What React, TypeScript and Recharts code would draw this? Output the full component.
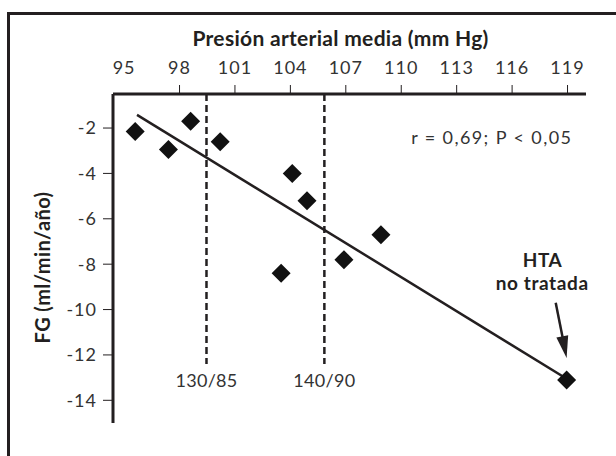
import React from 'react';
import { ScatterChart, Scatter, XAxis, YAxis, ReferenceLine, ReferenceDot } from 'recharts';

// presión arterial media (mm Hg) y pendiente del filtrado glomerular (ml/min/año)
const pamValues = [95.6, 97.4, 98.6, 100.2, 104.1, 104.9, 103.5, 108.9, 106.9, 118.95];
const fgValues = [-2.15, -2.95, -1.7, -2.6, -4.0, -5.2, -8.4, -6.7, -7.8, -13.1];

const xTicks = [95, 98, 101, 104, 107, 110, 113, 116, 119];
const yTicks = [-2, -4, -6, -8, -10, -12, -14];

const regression = [
    { x: 95.7, y: -1.42 },
    { x: 118.95, y: -13.05 },
];

const cutoffs = [
    { x: 99.46, label: '130/85' },
    { x: 105.84, label: '140/90' },
];
const cutoffTop = -0.5;
const cutoffBottom = -12.4;

const arrow = [
    { x: 118.36, y: -9.7 },
    { x: 118.9, y: -11.9 },
];
const arrowTip = { x: 118.95, y: -12.13 };

const points = pamValues.map((x, i) => ({ x, y: fgValues[i] }));

const INK = '#231f20';
const TXT = '#333333';
const FONT = 'Lato, "Open Sans", sans-serif';

const Diamond = (props: any) => {
    const { cx, cy } = props;
    const h = 9.5;
    return <polygon points={`${cx},${cy - h} ${cx + h},${cy} ${cx},${cy + h} ${cx - h},${cy}`} fill="#111" />;
};

const ArrowHead = (props: any) => {
    const { cx, cy } = props;
    return <polygon points="0,0 -6,-22 6,-22" fill={INK} transform={`translate(${cx},${cy}) rotate(-11.3)`} />;
};

const TopTick = (props: any) => {
    const { x, y, payload } = props;
    return (
        <g>
            {payload.value !== 95 && <line x1={x} x2={x} y1={y + 11} y2={y + 20} stroke={INK} strokeWidth={1} />}
            <text x={x} y={y} textAnchor="middle" fontFamily={FONT} fontSize={18} letterSpacing={1} fill={TXT}>
                {payload.value}
            </text>
        </g>
    );
};

const XTitle = (props: any) => {
    const { viewBox } = props;
    return (
        <text
            x={viewBox.x + viewBox.width / 2 - 9}
            y={viewBox.y - 8}
            textAnchor="middle"
            fontFamily={FONT}
            fontWeight="bold"
            fontSize={21}
            letterSpacing={0.3}
            fill={INK}
        >
            Presión arterial media (mm Hg)
        </text>
    );
};

const YTitle = (props: any) => {
    const { viewBox } = props;
    const x = viewBox.x - 3;
    const y = viewBox.y + viewBox.height / 2 + 9;
    return (
        <text
            x={x}
            y={y}
            transform={`rotate(-90, ${x}, ${y})`}
            textAnchor="middle"
            fontFamily={FONT}
            fontWeight="bold"
            fontSize={20}
            letterSpacing={0.4}
            fill={INK}
        >
            FG (ml/min/año)
        </text>
    );
};

export default function App() {
    return (
        <div style={{ position: 'relative', width: 616, height: 456, background: '#fff' }}>
            <style>{'body{margin:0;overflow:hidden}'}</style>
            <div
                style={{
                    position: 'absolute',
                    left: 7,
                    top: 12,
                    width: 609,
                    height: 444,
                    boxSizing: 'border-box',
                    borderTop: `3px solid ${INK}`,
                    borderLeft: `3px solid ${INK}`,
                }}
            />
            <div style={{ position: 'absolute', left: 0, top: 0 }}>
                <ScatterChart width={616} height={456} margin={{ top: 54, right: 30, bottom: 33, left: 53 }}>
                    <XAxis
                        type="number"
                        dataKey="x"
                        orientation="top"
                        height={40}
                        domain={[94.4, 120]}
                        ticks={xTicks}
                        interval={0}
                        allowDataOverflow
                        tick={<TopTick />}
                        tickLine={false}
                        tickSize={9}
                        tickMargin={11}
                        axisLine={{ stroke: INK, strokeWidth: 3 }}
                        label={<XTitle />}
                    />
                    <YAxis
                        type="number"
                        dataKey="y"
                        width={60}
                        domain={[-15, -0.5]}
                        ticks={yTicks}
                        interval={0}
                        allowDataOverflow
                        tick={{ fontFamily: FONT, fontSize: 18, fill: TXT, letterSpacing: 1 }}
                        tickLine={{ stroke: INK, strokeWidth: 1 }}
                        tickSize={10}
                        tickMargin={6}
                        axisLine={{ stroke: INK, strokeWidth: 3 }}
                        label={<YTitle />}
                    />
                    {cutoffs.map((c) => (
                        <ReferenceLine
                            key={c.label}
                            segment={[
                                { x: c.x, y: cutoffTop },
                                { x: c.x, y: cutoffBottom },
                            ]}
                            stroke={INK}
                            strokeWidth={2.5}
                            strokeDasharray="7 4"
                        />
                    ))}
                    {cutoffs.map((c) => (
                        <ReferenceDot
                            key={c.label + '-lbl'}
                            x={c.x}
                            y={cutoffBottom}
                            r={0}
                            stroke="none"
                            fill="none"
                            label={{
                                value: c.label,
                                position: 'bottom',
                                offset: 10,
                                fontFamily: FONT,
                                fontSize: 18,
                                letterSpacing: 0.3,
                                fill: TXT,
                            }}
                        />
                    ))}
                    <ReferenceLine segment={regression} stroke={INK} strokeWidth={2.5} />
                    <ReferenceLine segment={arrow} stroke={INK} strokeWidth={2.5} />
                    <ReferenceDot x={arrowTip.x} y={arrowTip.y} shape={<ArrowHead />} />
                    <ReferenceDot
                        x={114.9}
                        y={-2.41}
                        r={0}
                        stroke="none"
                        fill="none"
                        label={{
                            value: 'r = 0,69; P < 0,05',
                            position: 'center',
                            fontFamily: FONT,
                            fontSize: 18,
                            letterSpacing: 1.4,
                            fill: TXT,
                        }}
                    />
                    <ReferenceDot
                        x={117.65}
                        y={-7.81}
                        r={0}
                        stroke="none"
                        fill="none"
                        label={{
                            value: 'HTA',
                            position: 'center',
                            fontFamily: FONT,
                            fontSize: 19,
                            letterSpacing: 0.6,
                            fontWeight: 'bold',
                            fill: INK,
                        }}
                    />
                    <ReferenceDot
                        x={117.63}
                        y={-8.82}
                        r={0}
                        stroke="none"
                        fill="none"
                        label={{
                            value: 'no tratada',
                            position: 'center',
                            fontFamily: FONT,
                            fontSize: 19,
                            letterSpacing: 0.6,
                            fontWeight: 'bold',
                            fill: INK,
                        }}
                    />
                    <Scatter data={points} shape={<Diamond />} isAnimationActive={false} />
                </ScatterChart>
            </div>
        </div>
    );
}
